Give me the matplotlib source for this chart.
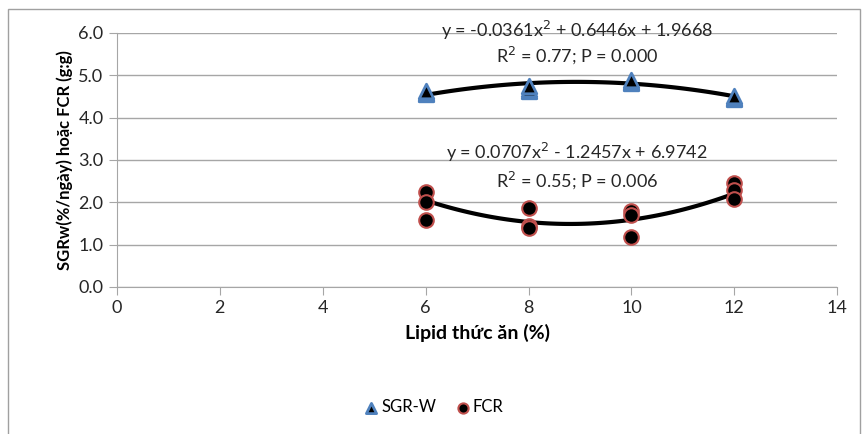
import matplotlib.pyplot as plt
import numpy as np
from matplotlib.patches import Rectangle

plt.rcParams['font.family'] = ['Lato', 'DejaVu Sans']

# du lieu doc tu hinh
lipid = [6, 6, 6, 8, 8, 8, 10, 10, 10, 12, 12, 12]
sgr_w = [4.55, 4.58, 4.62, 4.62, 4.68, 4.75, 4.82, 4.85, 4.9, 4.43, 4.47, 4.5]
fcr = [2.25, 2.0, 1.57, 1.87, 1.45, 1.38, 1.8, 1.7, 1.18, 2.45, 2.3, 2.07]

# he so duong xu huong (bac 2)
sgr_coef = [-0.0361, 0.6446, 1.9668]
fcr_coef = [0.0707, -1.2457, 6.9742]
sgr_eq = "y = -0.0361x$^2$ + 0.6446x + 1.9668"
sgr_r2 = "R$^2$ = 0.77; P = 0.000"
fcr_eq = "y = 0.0707x$^2$ - 1.2457x + 6.9742"
fcr_r2 = "R$^2$ = 0.55; P = 0.006"

fig = plt.figure(figsize=(8.65, 4.34), dpi=100)
ax = fig.add_axes([0.135, 0.339, 0.833, 0.585])

# khung ngoai
fig.patches.append(Rectangle((8 / 865, -0.05), 852 / 865, 1.03, transform=fig.transFigure,
                             fill=False, edgecolor='#a0a0a0', linewidth=1))

xs = np.linspace(6, 12, 100)
ax.plot(xs, np.polyval(sgr_coef, xs), color='black', linewidth=3, zorder=3)
ax.plot(xs, np.polyval(fcr_coef, xs), color='black', linewidth=3, zorder=3)

ax.scatter(lipid, sgr_w, marker='^', s=110, color='black', edgecolors='#4f81bd',
           linewidths=2, zorder=4, label='SGR-W')
ax.scatter(lipid, fcr, marker='o', s=110, color='black', edgecolors='#c0504d',
           linewidths=1.5, zorder=4, label='FCR')

ax.text(8.94, 6.07, sgr_eq, ha='center', va='center', fontsize=13, color='#262626')
ax.text(8.94, 5.48, sgr_r2, ha='center', va='center', fontsize=13, color='#262626')
ax.text(8.94, 3.17, fcr_eq, ha='center', va='center', fontsize=13, color='#262626')
ax.text(8.94, 2.53, fcr_r2, ha='center', va='center', fontsize=13, color='#262626')

ax.set_xlim(0, 14)
ax.set_ylim(0, 6)
ax.set_xticks(range(0, 15, 2))
ax.set_yticks(np.arange(0, 6.1, 1))
ax.set_yticklabels([f"{v:.1f}" for v in np.arange(0, 6.1, 1)])
ax.grid(axis='y', color='#a6a6a6', linewidth=1)
ax.set_axisbelow(True)
for s in ['top', 'right']:
    ax.spines[s].set_visible(False)
for s in ['left', 'bottom']:
    ax.spines[s].set_color('#a6a6a6')
ax.tick_params(axis='both', colors='#a6a6a6', labelcolor='#262626', labelsize=13,
               direction='out', length=6)

ax.set_xlabel("Lipid thức ăn (%)", fontsize=14, fontweight='bold', labelpad=6)
ax.set_ylabel("SGRw(%/ngày) hoặc FCR (g:g)", fontsize=12, fontweight='bold', labelpad=4)

fig.legend(loc='center', bbox_to_anchor=(0.5, 0.062), ncol=2, frameon=False,
           fontsize=12, handletextpad=0.0, handlelength=1.2, columnspacing=1.0,
           markerscale=0.7)

fig.savefig("out.png", dpi=100)
